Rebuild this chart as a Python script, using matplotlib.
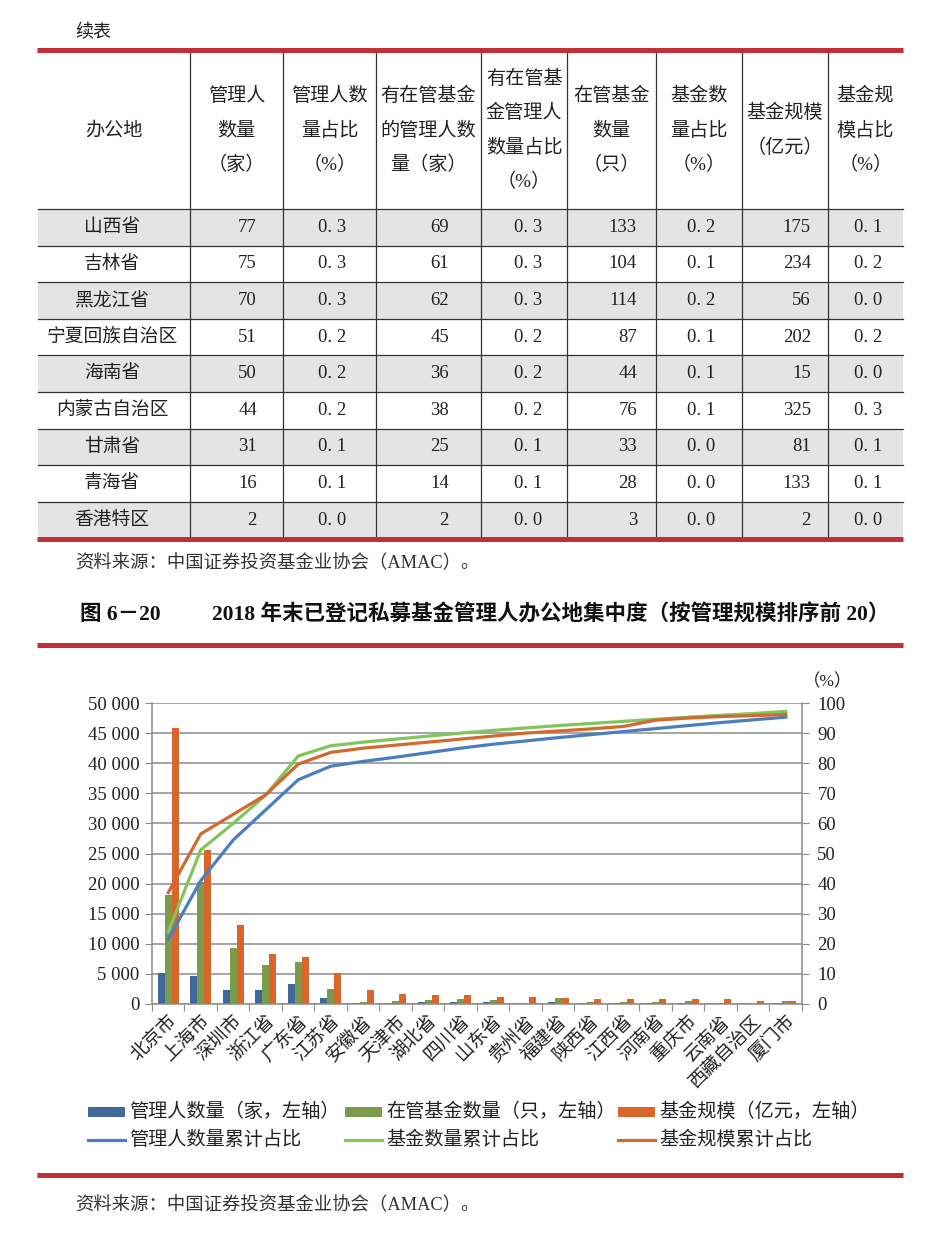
import matplotlib
matplotlib.use("Agg")
import matplotlib.pyplot as plt
from matplotlib.patches import Rectangle
from matplotlib.lines import Line2D
import numpy as np

# 中文用思源黑体，数字用衬线体
plt.rcParams['font.family'] = ['Liberation Serif', 'Noto Sans CJK SC']

W, H = 937, 1247
RED = '#c22f36'
TXT = '#222222'

# ---- 续表数据 ----
regions = ["山西省", "吉林省", "黑龙江省", "宁夏回族自治区", "海南省",
           "内蒙古自治区", "甘肃省", "青海省", "香港特区"]
mgr_num = [77, 75, 70, 51, 50, 44, 31, 16, 2]
mgr_pct = [0.3, 0.3, 0.3, 0.2, 0.2, 0.2, 0.1, 0.1, 0.0]
active_mgr = [69, 61, 62, 45, 36, 38, 25, 14, 2]
active_pct = [0.3, 0.3, 0.3, 0.2, 0.2, 0.2, 0.1, 0.1, 0.0]
fund_num = [133, 104, 114, 87, 44, 76, 33, 28, 3]
fund_pct = [0.2, 0.1, 0.2, 0.1, 0.1, 0.1, 0.0, 0.0, 0.0]
fund_scale = [175, 234, 56, 202, 15, 325, 81, 133, 2]
scale_pct = [0.1, 0.2, 0.0, 0.2, 0.0, 0.3, 0.1, 0.1, 0.0]

headers = [["办公地"],
           ["管理人", "数量", "（家）"],
           ["管理人数", "量占比", "（%）"],
           ["有在管基金", "的管理人数", "量（家）"],
           ["有在管基", "金管理人", "数量占比", "（%）"],
           ["在管基金", "数量", "（只）"],
           ["基金数", "量占比", "（%）"],
           ["基金规模", "（亿元）"],
           ["基金规", "模占比", "（%）"]]

# ---- 图6-20数据 ----
cities = ["北京市", "上海市", "深圳市", "浙江省", "广东省", "江苏省", "安徽省",
          "天津市", "湖北省", "四川省", "山东省", "贵州省", "福建省", "陕西省",
          "江西省", "河南省", "重庆市", "云南省", "西藏自治区", "厦门市"]
managers = [5100, 4700, 2400, 2400, 3270, 950, 100, 200, 300, 400, 400, 30,
            300, 150, 100, 150, 150, 50, 30, 150]
funds = [18100, 20300, 9250, 6500, 7030, 2440, 350, 550, 700, 900, 650, 50,
         950, 400, 300, 400, 450, 100, 30, 500]
scale = [45800, 25600, 13200, 8250, 7860, 5200, 2300, 1650, 1500, 1500, 1200,
         1200, 950, 900, 900, 900, 900, 800, 500, 500]
mgr_cum = [21.5, 41.0, 54.5, 64.5, 74.5, 79.0, 80.6, 82.0, 83.5, 85.0, 86.3,
           87.4, 88.5, 89.5, 90.5, 91.5, 92.5, 93.5, 94.4, 95.3]
fund_cum = [24.0, 51.2, 60.0, 69.4, 82.4, 85.8, 87.0, 88.0, 89.0, 90.0, 90.9,
            91.7, 92.5, 93.2, 93.9, 94.6, 95.3, 95.9, 96.5, 97.2]
scale_cum = [37.0, 56.5, 63.0, 69.5, 79.7, 83.6, 85.0, 86.0, 87.0, 88.0, 89.0,
             90.0, 90.7, 91.4, 92.2, 94.3, 95.0, 95.5, 95.8, 96.2]

fig = plt.figure(figsize=(W / 100, H / 100), dpi=100)
fig.patch.set_facecolor('white')

# 像素坐标的底层画布
bg = fig.add_axes([0, 0, 1, 1], zorder=0)
bg.set_xlim(0, W)
bg.set_ylim(H, 0)
bg.axis('off')
bg.patch.set_alpha(0)


def red_rule(y):
    bg.plot([37, 903], [y, y], color=RED, lw=3.6, solid_capstyle='butt')


bg.text(75, 33, "续表", fontsize=13, color=TXT, va='center', ha='left')

# ---- 表格 ----
col_x = [38, 190, 283, 376, 481, 567, 656, 742, 828, 903]
top, head_bot, row_h = 51, 209, 36.6
n = len(regions)
bottom = head_bot + n * row_h

for i in range(n):
    y0 = head_bot + i * row_h
    if i % 2 == 0:
        bg.add_patch(Rectangle((38, y0), 865, row_h, facecolor='#e4e4e4',
                               edgecolor='none', zorder=1))
    bg.plot([38, 903], [y0, y0], color='#333333', lw=0.9, zorder=2)
for x in col_x[1:-1]:
    bg.plot([x, x], [top, bottom], color='#333333', lw=0.9, zorder=2)

for j, lines in enumerate(headers):
    cx = (col_x[j] + col_x[j + 1]) / 2
    k = len(lines)
    for m, s in enumerate(lines):
        y = 130.5 + (m - (k - 1) / 2) * 34.5
        bg.text(cx, y, s, fontsize=13.8, color=TXT, ha='center', va='center', zorder=3)

right_int = [257, 449, 637, 811]
ctr_pct = [332, 528, 701, 868]


def fmt_pct(v):
    return f"{v:.1f}".replace(".", ". ")


for i in range(n):
    yc = head_bot + (i + 0.5) * row_h
    bg.text(112, yc, regions[i], fontsize=13.5, color=TXT, ha='center', va='center', zorder=3)
    for xr, col in zip(right_int, [mgr_num, active_mgr, fund_num, fund_scale]):
        bg.text(xr, yc, str(col[i]), fontsize=13.5, color=TXT, ha='right', va='center', zorder=3)
    for xc, col in zip(ctr_pct, [mgr_pct, active_pct, fund_pct, scale_pct]):
        bg.text(xc, yc, fmt_pct(col[i]), fontsize=13.5, color=TXT, ha='center', va='center', zorder=3)

red_rule(50)
red_rule(bottom + 1)

src = "资料来源：中国证券投资基金业协会（AMAC）。"
bg.text(75, 563, src, fontsize=13.2, color='#333333', va='center', ha='left')

bg.text(80, 615, "图 6－20", fontsize=15.5, fontweight='bold', color='#111111', va='center', ha='left')
bg.text(212, 615, "2018 年末已登记私募基金管理人办公地集中度（按管理规模排序前 20）",
        fontsize=15.5, fontweight='bold', color='#111111', va='center', ha='left')
red_rule(645)

# ---- 图表 ----
ax = fig.add_axes([152 / W, 1 - 1004 / H, 650 / W, 301 / H], zorder=2)
ax.patch.set_alpha(0)
x = np.arange(len(cities))
bw = 0.22
c_bar = ['#41689a', '#7b9b4b', '#d9662b']
c_line = ['#4a7ec0', '#80c55e', '#d2692e']
ax.bar(x - bw, managers, bw, color=c_bar[0], zorder=2)
ax.bar(x, funds, bw, color=c_bar[1], zorder=2)
ax.bar(x + bw, scale, bw, color=c_bar[2], zorder=2)
ax.set_xlim(-0.5, len(cities) - 0.5)
ax.set_ylim(0, 50000)
yt = np.arange(0, 50001, 5000)
ax.set_yticks(yt)
ax.set_yticklabels([f"{v:,}".replace(",", " ") for v in yt], fontsize=13.5, color=TXT)
ax.yaxis.grid(True, color='#8c8c8c', lw=1.1)
ax.set_axisbelow(True)
ax.set_xticks(np.arange(-0.5, len(cities), 1))
ax.set_xticklabels([])
ax.set_xticks(x, minor=True)
ax.set_xticklabels(cities, minor=True, rotation=45, ha='right', va='top',
                   rotation_mode='anchor', fontsize=13.5, color=TXT)
ax.tick_params(axis='x', which='major', length=5, color='#8c8c8c', direction='out')
ax.tick_params(axis='x', which='minor', length=0, pad=6)
ax.tick_params(axis='y', length=5, color='#8c8c8c', pad=4)
for s in ['top', 'right']:
    ax.spines[s].set_visible(False)
for s in ['left', 'bottom']:
    ax.spines[s].set_color('#8c8c8c')
    ax.spines[s].set_linewidth(1.1)

ax2 = ax.twinx()
ax2.plot(x, mgr_cum, color=c_line[0], lw=2.3, zorder=3)
ax2.plot(x, fund_cum, color=c_line[1], lw=2.3, zorder=3)
ax2.plot(x, scale_cum, color=c_line[2], lw=2.3, zorder=3)
ax2.set_ylim(0, 100)
ax2.set_yticks(np.arange(0, 101, 10))
ax2.set_yticklabels([str(v) for v in range(0, 101, 10)], fontsize=13.5, color=TXT)
ax2.tick_params(axis='y', length=5, color='#8c8c8c', pad=6)
for s in ['top', 'left', 'bottom']:
    ax2.spines[s].set_visible(False)
ax2.spines['right'].set_color('#8c8c8c')
ax2.spines['right'].set_linewidth(1.1)

bg.text(828, 682, "（%）", fontsize=12.5, color=TXT, ha='center', va='center')

# ---- 图例 ----
leg_x = [88, 345, 618]
bar_lab = ["管理人数量（家，左轴）", "在管基金数量（只，左轴）", "基金规模（亿元，左轴）"]
line_lab = ["管理人数量累计占比", "基金数量累计占比", "基金规模累计占比"]
for lx, c, lab in zip(leg_x, c_bar, bar_lab):
    bg.add_patch(Rectangle((lx, 1107), 37, 10, facecolor=c, edgecolor='none'))
    bg.text(lx + 41, 1112, lab, fontsize=13.8, color=TXT, va='center', ha='left')
for lx, c, lab in zip(leg_x, c_line, line_lab):
    bg.add_line(Line2D([lx, lx + 37], [1140, 1140], color=c, lw=2.3))
    bg.text(lx + 41, 1140, lab, fontsize=13.8, color=TXT, va='center', ha='left')

red_rule(1175)
bg.text(75, 1205, src, fontsize=13.2, color='#333333', va='center', ha='left')

fig.savefig("out.png", dpi=100, facecolor='white')
